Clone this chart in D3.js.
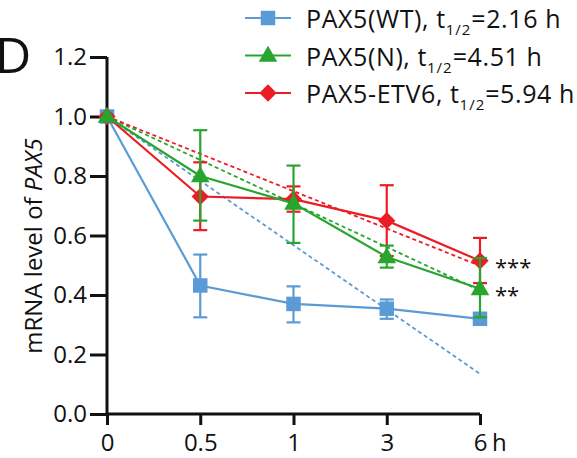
<!DOCTYPE html>
<html>
<head>
<meta charset="utf-8">
<script src="https://cdn.jsdelivr.net/npm/d3@7"></script>
<style>
  body { margin: 0; background: #fff; }
  svg text { font-family: "Open Sans", sans-serif; fill: #111; }
</style>
</head>
<body>
<svg id="chart" width="577" height="458"></svg>
<script>
// time points (categorical)
var times = ["0", "0.5", "1", "3", "6"];
var yTicks = [0, 0.2, 0.4, 0.6, 0.8, 1.0, 1.2];

// PAX5(WT)
var wtMean = [1.0, 0.432, 0.370, 0.354, 0.320];
var wtLow  = [1.0, 0.325, 0.308, 0.320, 0.310];
var wtHigh = [1.0, 0.536, 0.429, 0.385, 0.330];
// PAX5(N)
var nMean = [1.0, 0.800, 0.708, 0.528, 0.421];
var nLow  = [1.0, 0.650, 0.575, 0.492, 0.325];
var nHigh = [1.0, 0.954, 0.835, 0.566, 0.524];
// PAX5-ETV6
var eMean = [1.0, 0.731, 0.722, 0.650, 0.515];
var eLow  = [1.0, 0.618, 0.680, 0.531, 0.440];
var eHigh = [1.0, 0.846, 0.765, 0.769, 0.592];

// fitted decay lines: value at first and last time point
var fitWT = [1.0, 0.135];
var fitN = [1.0, 0.415];
var fitE = [1.0, 0.498];

var names = ["PAX5(WT), t", "PAX5(N), t", "PAX5-ETV6, t"];
var halfLives = ["=2.16 h", "=4.51 h", "=5.94 h"];
var stars = ["", "**", "***"];

var series = [
  {name: names[0], half: halfLives[0], mean: wtMean, low: wtLow, high: wtHigh, fit: fitWT, color: "#5b9bd5", shape: "square", star: stars[0]},
  {name: names[1], half: halfLives[1], mean: nMean, low: nLow, high: nHigh, fit: fitN, color: "#27a52f", shape: "triangle", star: stars[1]},
  {name: names[2], half: halfLives[2], mean: eMean, low: eLow, high: eHigh, fit: fitE, color: "#ec1c24", shape: "diamond", star: stars[2]}
];

var svg = d3.select("#chart");

var xScale = d3.scalePoint().domain(times).range([107, 480]);
var yScale = d3.scaleLinear().domain([0, 1.2]).range([414, 57]);

function symbolFor(shape) {
  if (shape === "square") return d3.symbol().type(d3.symbolSquare).size(210)();
  if (shape === "triangle") return d3.symbol().type(d3.symbolTriangle).size(150)();
  return d3.symbol().type(d3.symbolDiamond2).size(190)();
}

// axes
var yAxis = d3.axisLeft(yScale).tickValues(yTicks).tickFormat(d3.format(".1f")).tickSize(17).tickPadding(3);
var gy = svg.append("g").attr("transform", "translate(107,0)").call(yAxis);
var xAxis = d3.axisBottom(xScale).tickSize(11).tickPadding(9);
var gx = svg.append("g").attr("transform", "translate(0,414)").call(xAxis);

[gx, gy].forEach(function(g) {
  g.select(".domain").attr("stroke", "#111").attr("stroke-width", 3);
  g.selectAll(".tick line").attr("stroke", "#111").attr("stroke-width", 3);
  g.selectAll(".tick text").style("font-size", "24px").attr("fill", "#111");
});
gy.select(".domain").attr("d", "M0," + yScale(1.2) + "V" + yScale(0));
gx.select(".domain").attr("d", "M" + xScale("0") + ",0H" + xScale("6"));

svg.append("text")
  .attr("x", xScale("6") + 12)
  .attr("y", 414 + 11 + 9)
  .attr("dy", "0.71em")
  .style("font-size", "24px")
  .text("h");

// y label
var ylab = svg.append("text")
  .attr("transform", "translate(42,246) rotate(-90)")
  .attr("text-anchor", "middle")
  .style("font-size", "24px");
ylab.append("tspan").text("mRNA level of ");
ylab.append("tspan").style("font-style", "italic").text("PAX5");

// panel letter
svg.append("text").attr("x", -5).attr("y", 73).style("font-size", "50px").text("D");

var plot = svg.append("g");

// dashed fits
series.forEach(function(s) {
  plot.append("line")
    .attr("x1", xScale(times[0])).attr("y1", yScale(s.fit[0]))
    .attr("x2", xScale(times[times.length - 1])).attr("y2", yScale(s.fit[1]))
    .attr("stroke", s.color).attr("stroke-width", 1.8)
    .attr("stroke-dasharray", "4,3");
});

var line = d3.line().x(function(d) { return xScale(d.t); }).y(function(d) { return yScale(d.v); });

// draw order: WT, ETV6, N
[series[0], series[2], series[1]].forEach(function(s) {
  var pts = times.map(function(t, i) { return {t: t, v: s.mean[i], lo: s.low[i], hi: s.high[i]}; });
  var g = plot.append("g");
  g.append("path").datum(pts).attr("d", line)
    .attr("fill", "none").attr("stroke", s.color).attr("stroke-width", 2.2);

  var eb = g.selectAll(".err").data(pts.slice(1)).enter().append("g");
  eb.append("line")
    .attr("x1", function(d) { return xScale(d.t); }).attr("x2", function(d) { return xScale(d.t); })
    .attr("y1", function(d) { return yScale(d.lo); }).attr("y2", function(d) { return yScale(d.hi); })
    .attr("stroke", s.color).attr("stroke-width", 2.2);
  ["lo", "hi"].forEach(function(k) {
    eb.append("line")
      .attr("x1", function(d) { return xScale(d.t) - 7; }).attr("x2", function(d) { return xScale(d.t) + 7; })
      .attr("y1", function(d) { return yScale(d[k]); }).attr("y2", function(d) { return yScale(d[k]); })
      .attr("stroke", s.color).attr("stroke-width", 2.2);
  });

  g.selectAll(".pt").data(pts).enter().append("path")
    .attr("d", symbolFor(s.shape))
    .attr("transform", function(d) {
      var dy = s.shape === "triangle" ? 1 : 0;
      return "translate(" + xScale(d.t) + "," + (yScale(d.v) + dy) + ")";
    })
    .attr("fill", s.color);

  if (s.star) {
    svg.append("text")
      .attr("x", xScale("6") + 15)
      .attr("y", yScale(s.mean[4]) + 14)
      .style("font-size", "22px")
      .text(s.star);
  }
});

// legend
var legend = svg.append("g");
series.forEach(function(s, i) {
  var y = 18 + i * 37.5;
  legend.append("line").attr("x1", 245).attr("x2", 291).attr("y1", y).attr("y2", y)
    .attr("stroke", s.color).attr("stroke-width", 2.2);
  legend.append("path").attr("d", symbolFor(s.shape))
    .attr("transform", "translate(268," + (y + (s.shape === "triangle" ? 1 : 0)) + ")")
    .attr("fill", s.color);
  var t = legend.append("text").attr("x", 306).attr("y", y + 10)
    .style("font-size", "25px").style("letter-spacing", "0.6px");
  t.append("tspan").text(s.name);
  t.append("tspan").attr("dy", 7).style("font-size", "15px").style("letter-spacing", "1px").text("1/2");
  t.append("tspan").attr("dy", -7).text(s.half);
});
</script>
</body>
</html>
